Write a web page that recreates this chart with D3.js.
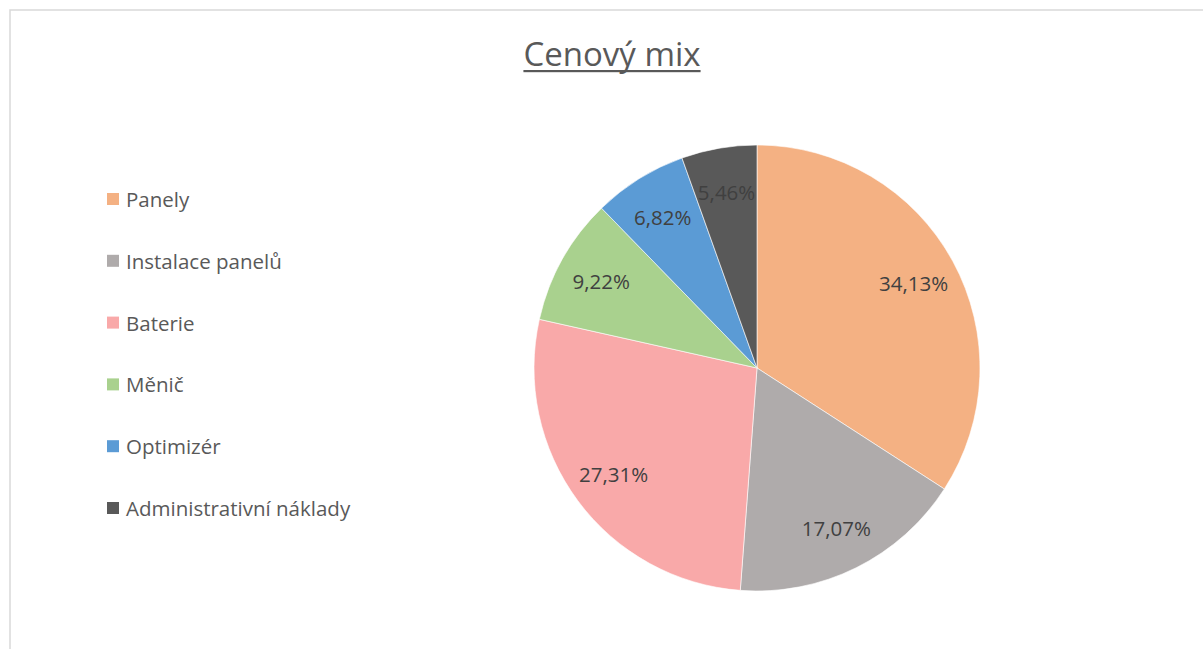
<!DOCTYPE html>
<html>
<head>
<meta charset="utf-8">
<script src="https://cdn.jsdelivr.net/npm/d3@7"></script>
<style>
  html, body { margin: 0; padding: 0; background: #fff; }
  svg { display: block; font-family: "Open Sans", sans-serif; }
</style>
</head>
<body>
<svg id="chart"></svg>
<script>
// Chart data
const categories = ["Panely", "Instalace panelů", "Baterie", "Měnič", "Optimizér", "Administrativní náklady"];
const shares = [34.13, 17.07, 27.31, 9.22, 6.82, 5.46];
const colors = ["#F4B183", "#AFABAB", "#F9A9A9", "#A9D18E", "#5B9BD5", "#595959"];

const width = 1203;
const height = 649;

const svg = d3.select("#chart")
  .attr("width", width)
  .attr("height", height);

// Chart area border (right and bottom run off the page)
svg.append("rect")
  .attr("x", 10)
  .attr("y", 10)
  .attr("width", 1220)
  .attr("height", 680)
  .attr("fill", "none")
  .attr("stroke", "#d9d9d9")
  .attr("stroke-width", 1.5);

// Title, underlined
const title = svg.append("text")
  .attr("x", 612)
  .attr("y", 66)
  .attr("text-anchor", "middle")
  .attr("fill", "#595959")
  .style("font-size", "33px")
  .text("Cenový mix");

const tb = title.node().getBBox();
svg.append("rect")
  .attr("x", tb.x)
  .attr("y", 70)
  .attr("width", tb.width)
  .attr("height", 2.2)
  .attr("fill", "#595959");

// Pie
const cx = 757, cy = 368, radius = 223;
const color = d3.scaleOrdinal().domain(categories).range(colors);

const pie = d3.pie()
  .value(d => d.value)
  .sort(null);

const data = categories.map((c, i) => ({ name: c, value: shares[i] }));
const arcs = pie(data);

const arc = d3.arc().innerRadius(0).outerRadius(radius);
const labelArc = d3.arc().innerRadius(radius * 0.8).outerRadius(radius * 0.8);

const g = svg.append("g").attr("transform", `translate(${cx},${cy})`);

g.selectAll(".slice")
  .data(arcs)
  .enter()
  .append("path")
  .attr("class", "slice")
  .attr("d", arc)
  .attr("fill", d => color(d.data.name))
  .attr("stroke", "#ffffff")
  .attr("stroke-width", 0.6);

const fmt = v => v.toFixed(2).replace(".", ",") + "%";

g.selectAll(".label")
  .data(arcs)
  .enter()
  .append("text")
  .attr("class", "label")
  .attr("transform", d => `translate(${labelArc.centroid(d)})`)
  .attr("text-anchor", "middle")
  .attr("dominant-baseline", "central")
  .attr("fill", "#404040")
  .style("font-size", "20.5px")
  .text(d => fmt(d.data.value));

// Legend
const legend = svg.append("g").attr("transform", "translate(107,199)");

const item = legend.selectAll(".legend-item")
  .data(categories)
  .enter()
  .append("g")
  .attr("class", "legend-item")
  .attr("transform", (d, i) => `translate(0,${i * 61.8})`);

item.append("rect")
  .attr("x", 0)
  .attr("y", -6)
  .attr("width", 12)
  .attr("height", 12)
  .attr("fill", d => color(d));

item.append("text")
  .attr("x", 19)
  .attr("y", 0)
  .attr("dominant-baseline", "central")
  .attr("fill", "#595959")
  .style("font-size", "20.5px")
  .text(d => d);
</script>
</body>
</html>
